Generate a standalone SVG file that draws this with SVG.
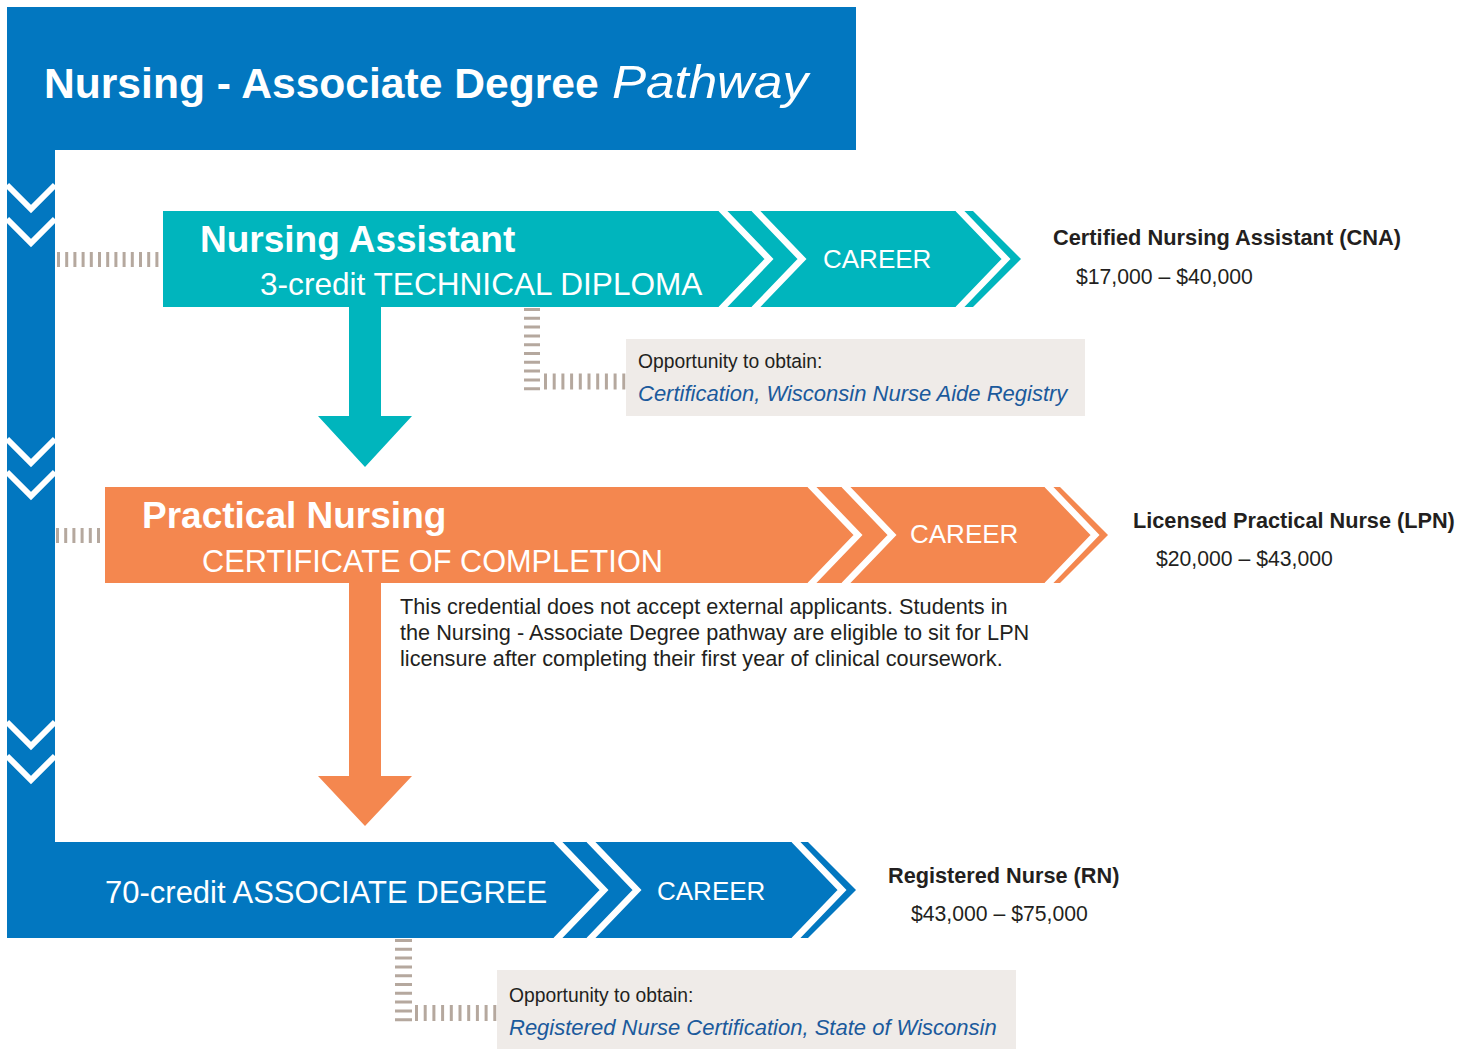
<svg xmlns="http://www.w3.org/2000/svg" width="1471" height="1049" viewBox="0 0 1471 1049">
<style>
.blue{fill:#0277c0}
.teal{fill:#00b5bd}
.orange{fill:#f4874f}
.chev{fill:none;stroke:#fff;stroke-width:6.5;stroke-linejoin:miter}
.spinechev{fill:none;stroke:#fff;stroke-width:6;stroke-linejoin:miter}
.wt{font-family:"Liberation Sans",Arial,sans-serif;fill:#fff}
.dk{font-family:"Liberation Sans",Arial,sans-serif;fill:#231f20}
.link{font-family:"Liberation Sans",Arial,sans-serif;fill:#1b5a9c;font-style:italic}
.hatch{stroke:#b5a89e;fill:none}
.box{fill:#efebe8}
</style>
<rect width="1471" height="1049" fill="#fff"/>

<g id="title">
<rect class="blue" x="7" y="7" width="849" height="143"/>
<text class="wt" x="44" y="98" font-size="42.6" font-weight="bold">Nursing - Associate Degree</text>
<text class="wt" x="612" y="98" font-size="46" font-style="italic" font-family="'DejaVu Sans',sans-serif" textLength="196" lengthAdjust="spacingAndGlyphs">Pathway</text>
</g>

<g id="spine">
<rect class="blue" x="7" y="148" width="48" height="696"/>
<polyline class="spinechev" points="7,185 31,209 55,185"/>
<polyline class="spinechev" points="7,219 31,243 55,219"/>
<polyline class="spinechev" points="7,439 31,463 55,439"/>
<polyline class="spinechev" points="7,472 31,496 55,472"/>
<polyline class="spinechev" points="7,722 31,746 55,722"/>
<polyline class="spinechev" points="7,756 31,780 55,756"/>
</g>

<g id="connectors">
<line class="hatch" x1="57" y1="259.5" x2="163" y2="259.5" stroke-width="15" stroke-dasharray="3 5.2"/>
<line class="hatch" x1="56" y1="535.5" x2="105" y2="535.5" stroke-width="15" stroke-dasharray="3 5.2"/>
<line class="hatch" x1="532" y1="308" x2="532" y2="391" stroke-width="16" stroke-dasharray="3 5.8"/>
<line class="hatch" x1="544" y1="381.5" x2="626" y2="381.5" stroke-width="16" stroke-dasharray="3 5.7"/>
<line class="hatch" x1="403.5" y1="939" x2="403.5" y2="1022" stroke-width="17" stroke-dasharray="3 5.8"/>
<line class="hatch" x1="415" y1="1013" x2="497" y2="1013" stroke-width="16" stroke-dasharray="3 5.7"/>
<polygon class="teal" points="349,306 381,306 381,416 412,416 365,467 318,416 349,416"/>
<polygon class="orange" points="349,582 381,582 381,776 412,776 365,826 318,776 349,776"/>
</g>

<g id="node-nursing-assistant">
<polygon class="teal" points="163,211 973,211 1021,259 973,307 163,307"/>
<polyline class="chev" points="721,209 769,259 721,309"/>
<polyline class="chev" points="754,209 802,259 754,309"/>
<polyline class="chev" points="958,209 1006,259 958,309"/>
<text class="wt" x="200" y="252" font-size="37" font-weight="bold">Nursing Assistant</text>
<text class="wt" x="260" y="295" font-size="31.6">3-credit TECHNICAL DIPLOMA</text>
<text class="wt" x="823" y="268" font-size="26">CAREER</text>
</g>

<g id="node-practical-nursing">
<polygon class="orange" points="105,487 1060,487 1108,535 1060,583 105,583"/>
<polyline class="chev" points="810,485 858,535 810,585"/>
<polyline class="chev" points="844,485 892,535 844,585"/>
<polyline class="chev" points="1047,485 1095,535 1047,585"/>
<text class="wt" x="142" y="528" font-size="37" font-weight="bold">Practical Nursing</text>
<text class="wt" x="202" y="572" font-size="30.7">CERTIFICATE OF COMPLETION</text>
<text class="wt" x="910" y="543" font-size="26">CAREER</text>
</g>

<g id="node-associate-degree">
<polygon class="blue" points="7,842 808,842 856,890 808,938 7,938"/>
<polyline class="chev" points="556,840 604,890 556,940"/>
<polyline class="chev" points="589,840 637,890 589,940"/>
<polyline class="chev" points="794,840 842,890 794,940"/>
<text class="wt" x="105" y="903" font-size="31">70-credit ASSOCIATE DEGREE</text>
<text class="wt" x="657" y="900" font-size="26">CAREER</text>
</g>

<g id="career-cna">
<text class="dk" x="1053" y="245" font-size="21.8" font-weight="bold">Certified Nursing Assistant (CNA)</text>
<text class="dk" x="1076" y="284" font-size="21.2">$17,000 – $40,000</text>
</g>

<g id="career-lpn">
<text class="dk" x="1133" y="528" font-size="21.7" font-weight="bold">Licensed Practical Nurse (LPN)</text>
<text class="dk" x="1156" y="566" font-size="21.2">$20,000 – $43,000</text>
</g>

<g id="career-rn">
<text class="dk" x="888" y="883" font-size="21.7" font-weight="bold">Registered Nurse (RN)</text>
<text class="dk" x="911" y="921" font-size="21.2">$43,000 – $75,000</text>
</g>

<g id="opportunity-cna">
<rect class="box" x="626" y="339" width="459" height="77"/>
<text class="dk" x="638" y="368" font-size="19.3">Opportunity to obtain:</text>
<text class="link" x="638" y="401" font-size="22">Certification, Wisconsin Nurse Aide Registry</text>
</g>

<g id="note-lpn">
<text class="dk" font-size="21.7">
<tspan x="400" y="614">This credential does not accept external applicants. Students in</tspan>
<tspan x="400" y="640">the Nursing - Associate Degree pathway are eligible to sit for LPN</tspan>
<tspan x="400" y="666">licensure after completing their first year of clinical coursework.</tspan>
</text>
</g>

<g id="opportunity-rn">
<rect class="box" x="497" y="970" width="519" height="79"/>
<text class="dk" x="509" y="1002" font-size="19.3">Opportunity to obtain:</text>
<text class="link" x="509" y="1035" font-size="22">Registered Nurse Certification, State of Wisconsin</text>
</g>
</svg>
